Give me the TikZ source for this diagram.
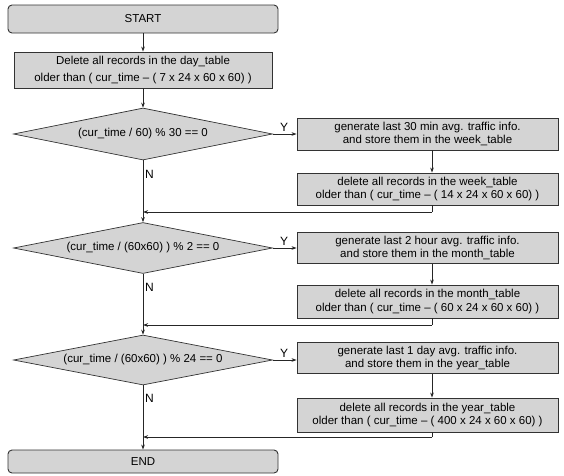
\documentclass[tikz,border=0pt]{standalone}
\usepackage{fontspec}
\setmainfont{Liberation Sans}
\usetikzlibrary{shapes.geometric,arrows.meta}
\definecolor{boxfill}{HTML}{D4D4D4}
\definecolor{edge}{HTML}{333333}
\begin{document}
\begin{tikzpicture}[x=1pt,y=-1pt,
  every node/.style={font=\fontsize{11.5}{13.7}\selectfont},
  procbox/.style={draw=edge,fill=boxfill,line width=0.9pt,inner sep=0pt,align=center},
  termbox/.style={procbox,rounded corners=4pt},
  decbox/.style={diamond,draw=edge,fill=boxfill,line width=0.7pt,inner sep=0pt},
  arr/.style={-{Stealth[length=5pt,width=3.6pt]},line width=0.8pt,draw=black!85},
  ln/.style={line width=0.8pt,draw=black!85},
  lbl/.style={font=\fontsize{12}{13}\selectfont,inner sep=0pt}]
\useasboundingbox (0,0) rectangle (564,475);
\fill[white] (0,0) rectangle (564,475);

\node[termbox,minimum width=270pt,minimum height=28pt] (start) at (143,19) {START};
\node[procbox,minimum width=258pt,minimum height=36pt,font=\fontsize{11.5}{17.5}\selectfont] (del0) at (143,70) {Delete all records in the day\_table\\older than ( cur\_time -- ( 7 x 24 x 60 x 60) )};
\node[decbox,minimum width=259pt,minimum height=52pt,label=center:{(cur\_time / 60) \% 30 == 0}] (d1) at (143,134) {};
\node[procbox,minimum width=261pt,minimum height=32pt] (gen1) at (427.5,134) {generate last 30 min avg. traffic info.\\and store them in the week\_table};
\node[procbox,minimum width=261pt,minimum height=32pt] (del1) at (427.5,189) {delete all records in the week\_table\\older than ( cur\_time -- ( 14 x 24 x 60 x 60) )};

\node[decbox,minimum width=259pt,minimum height=51pt,label=center:{(cur\_time / (60x60) ) \% 2 == 0}] (d2) at (143,248) {};
\node[procbox,minimum width=261pt,minimum height=31pt] (gen2) at (427.5,248) {generate last 2 hour avg. traffic info.\\and store them in the month\_table};
\node[procbox,minimum width=261pt,minimum height=33pt] (del2) at (427.5,301.5) {delete all records in the month\_table\\older than ( cur\_time -- ( 60 x 24 x 60 x 60) )};

\node[decbox,minimum width=259pt,minimum height=50pt,label=center:{(cur\_time / (60x60) ) \% 24 == 0}] (d3) at (143,360) {};
\node[procbox,minimum width=261pt,minimum height=31pt] (gen3) at (427.5,358) {generate last 1 day avg. traffic info.\\and store them in the year\_table};
\node[procbox,minimum width=261pt,minimum height=34pt] (del3) at (427.5,415) {delete all records in the year\_table\\older than ( cur\_time -- ( 400 x 24 x 60 x 60) )};

\node[termbox,minimum width=270pt,minimum height=23pt] (end) at (143,461.5) {END};

\coordinate (rx) at (432,0);
\coordinate (j1) at (143,212);
\coordinate (j2) at (143,325);
\coordinate (j3) at (143,437);

\draw[arr] (start) -- (del0);
\draw[arr] (del0) -- (d1);
\draw[arr] (d1.south) -- (d2.north);
\draw[arr] (d2.south) -- (d3.north);
\draw[arr] (d3.south) -- (end.north);

\draw[arr] (d1.east) -- (gen1.west |- d1.east);
\draw[arr] (d2.east) -- (gen2.west |- d2.east);
\draw[arr] (d3.east) -- (gen3.west |- d3.east);

\draw[arr] (gen1.south -| rx) -- (del1.north -| rx);
\draw[arr] (gen2.south -| rx) -- (del2.north -| rx);
\draw[arr] (gen3.south -| rx) -- (del3.north -| rx);

\draw[ln] (del1.south -| rx) -- (j1 -| rx);
\draw[arr] (j1 -| rx) -- (j1);
\draw[ln] (del2.south -| rx) -- (j2 -| rx);
\draw[arr] (j2 -| rx) -- (j2);
\draw[ln] (del3.south -| rx) -- (j3 -| rx);
\draw[arr] (j3 -| rx) -- (j3);

\node[lbl,anchor=south] (y1) at (284,132) {Y};
\node[lbl,anchor=south] (y2) at (284,246) {Y};
\node[lbl,anchor=south] (y3) at (284,358) {Y};
\node[lbl,anchor=west] (n1) at (145,174) {N};
\node[lbl,anchor=west] (n2) at (145,287) {N};
\node[lbl,anchor=west] (n3) at (145,398) {N};
\end{tikzpicture}
\end{document}
